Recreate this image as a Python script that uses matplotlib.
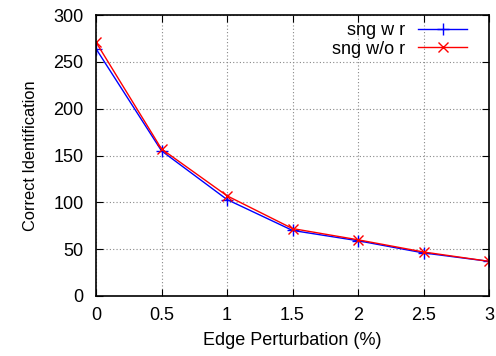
import matplotlib
matplotlib.use("Agg")
import matplotlib.pyplot as plt

plt.rcParams['font.family'] = ['Liberation Sans', 'DejaVu Sans']

x = [0, 0.5, 1, 1.5, 2, 2.5, 3]
with_r = [264, 155, 103, 70, 59, 46, 37]
without_r = [271, 157, 107, 72, 60, 47, 37]
xticks = [0, 0.5, 1, 1.5, 2, 2.5, 3]
xticklabels = ['0', '0.5', '1', '1.5', '2', '2.5', '3']
yticks = [0, 50, 100, 150, 200, 250, 300]

fig = plt.figure(figsize=(4.96, 3.56), dpi=100)
ax = fig.add_axes([96/496, 1-296/356, (489-96)/496, (296-15)/356])

ax.plot(x, with_r, color='#0000ff', marker='+', markersize=9, linewidth=1, label='sng w r', mew=1)
ax.plot(x, without_r, color='#ff0000', marker='x', markersize=7, linewidth=1, label='sng w/o r', mew=1)

ax.set_xlim(0, 3)
ax.set_ylim(0, 300)
ax.set_xticks(xticks)
ax.set_xticklabels(xticklabels)
ax.set_yticks(yticks)
ax.grid(True, color='#888888', linestyle=(0, (1, 2)), linewidth=0.8)
ax.tick_params(direction='in', length=5, labelsize=13, top=True, right=True)
ax.tick_params(axis='y', pad=9)
ax.tick_params(axis='x', pad=8)
for s in ax.spines.values():
    s.set_linewidth(1.2)

ax.set_xlabel('Edge Perturbation (%)', fontsize=13, labelpad=6)
ax.set_ylabel('Correct Identification', fontsize=11.8, labelpad=11)

leg = ax.legend(loc='upper right', frameon=False, fontsize=13, markerfirst=False,
                handlelength=2.7, borderpad=0, borderaxespad=0, labelspacing=0.1,
                handletextpad=0.7, bbox_to_anchor=(467/496, 1-22/356),
                bbox_transform=fig.transFigure)

fig.savefig('out.png', dpi=100)
